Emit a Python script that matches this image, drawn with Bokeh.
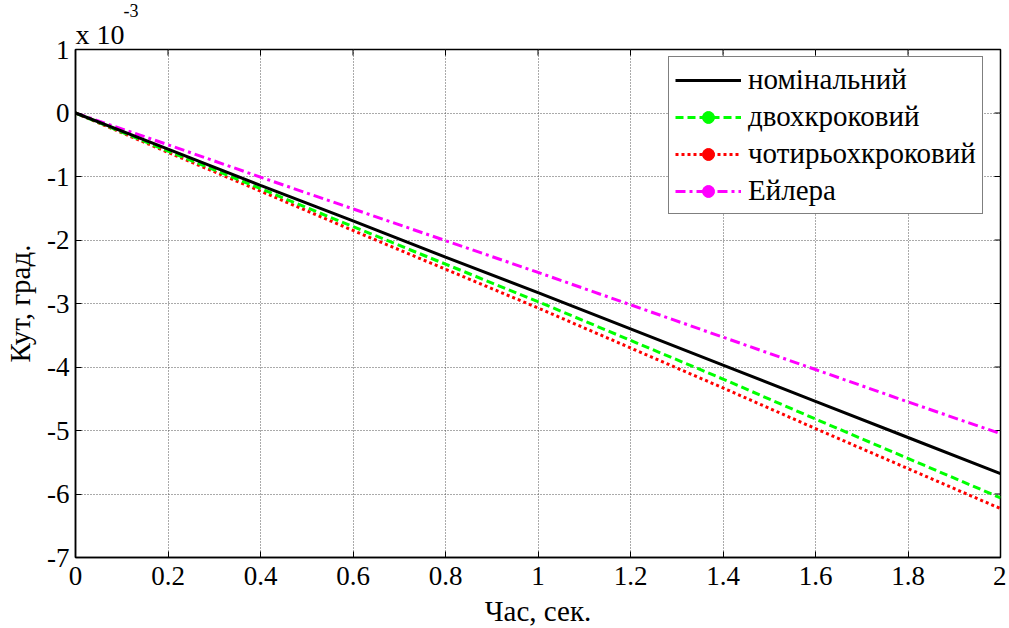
from bokeh.plotting import figure
from bokeh.models import Legend, LegendItem, Title, FixedTicker
from bokeh.embed import file_html
from bokeh.resources import INLINE

# time, s
t = [0.0, 0.2, 0.4, 0.6, 0.8, 1.0, 1.2, 1.4, 1.6, 1.8, 2.0]
# angle, degrees x 10^-3
nominal = [0.0, -0.57, -1.14, -1.70, -2.27, -2.83, -3.40, -3.97, -4.54, -5.11, -5.68]
two_step = [0.0, -0.60, -1.19, -1.79, -2.38, -2.97, -3.58, -4.19, -4.82, -5.44, -6.06]
four_step = [0.0, -0.62, -1.23, -1.85, -2.46, -3.07, -3.70, -4.33, -4.97, -5.60, -6.23]
euler = [0.0, -0.50, -1.01, -1.51, -2.01, -2.51, -3.02, -3.53, -4.04, -4.55, -5.05]

names = ["номінальний", "двохкроковий", "чотирьохкроковий", "Ейлера"]
x_ticks = [0, 0.2, 0.4, 0.6, 0.8, 1, 1.2, 1.4, 1.6, 1.8, 2]
x_tick_labels = ["0", "0.2", "0.4", "0.6", "0.8", "1", "1.2", "1.4", "1.6", "1.8", "2"]
y_ticks = [-7, -6, -5, -4, -3, -2, -1, 0, 1]
x_min, x_max = 0, 2
y_min, y_max = -7, 1

FONT = "'Liberation Serif'"
FS_TICK = "27px"
FS = "29px"

p = figure(frame_width=925, frame_height=508, x_range=(x_min, x_max), y_range=(y_min, y_max),
           output_backend="svg", toolbar_location=None,
           min_border_left=75, min_border_top=49, min_border_right=6, min_border_bottom=68,
           background_fill_color="white", border_fill_color="white")

p.outline_line_color = "black"
p.outline_line_width = 1.5
p.outline_line_alpha = 1

for ax in (p.xaxis[0], p.yaxis[0]):
    ax.major_label_text_font = FONT
    ax.major_label_text_font_size = FS_TICK
    ax.major_label_text_font_style = "normal"
    ax.major_label_text_color = "black"
    ax.axis_label_text_font = FONT
    ax.axis_label_text_font_size = FS
    ax.axis_label_text_font_style = "normal"
    ax.axis_label_text_color = "black"
    ax.major_tick_in = 6
    ax.major_tick_out = 0
    ax.minor_tick_line_color = None
    ax.axis_line_color = "black"
    ax.axis_line_width = 1.5
    ax.major_tick_line_color = "black"

p.xaxis.ticker = FixedTicker(ticks=x_ticks)
p.xaxis.major_label_overrides = {v: s for v, s in zip(x_ticks, x_tick_labels)}
p.yaxis.ticker = FixedTicker(ticks=y_ticks)
p.yaxis.major_label_overrides = {v: str(v) for v in y_ticks}
p.xaxis.axis_label = "Час, сек."
p.yaxis.axis_label = "Кут, град."
p.xaxis.major_label_standoff = 9
p.yaxis.major_label_standoff = 6
p.xaxis.axis_label_standoff = 7
p.yaxis.axis_label_standoff = 8

p.xgrid.ticker = FixedTicker(ticks=x_ticks)
p.ygrid.ticker = FixedTicker(ticks=y_ticks)
p.grid.grid_line_color = "#555555"
p.grid.grid_line_dash = "1 2"
p.grid.grid_line_width = 1

# inward ticks on top and right edges of the box
tx = (x_max - x_min) * 6 / 925
ty = (y_max - y_min) * 6 / 508
p.segment(x0=x_ticks, y0=[y_max] * len(x_ticks), x1=x_ticks, y1=[y_max - ty] * len(x_ticks),
          line_color="black", line_width=1)
p.segment(x0=[x_max] * len(y_ticks), y0=y_ticks, x1=[x_max - tx] * len(y_ticks), y1=y_ticks,
          line_color="black", line_width=1)

r_euler = p.line(t, euler, line_color="#FF00FF", line_width=3, line_dash="10 4 3 4")
r_four = p.line(t, four_step, line_color="#FF0000", line_width=3, line_dash="3 3")
r_two = p.line(t, two_step, line_color="#00FF00", line_width=3, line_dash="8 4")
r_nom = p.line(t, nominal, line_color="black", line_width=3)

# marker glyphs for the legend only (placed outside the visible range)
m_two = p.scatter([-10], [-10], size=7, color="#00FF00")
m_four = p.scatter([-10], [-10], size=7, color="#FF0000")
m_euler = p.scatter([-10], [-10], size=7, color="#FF00FF")

legend = Legend(items=[
    LegendItem(label=names[0], renderers=[r_nom]),
    LegendItem(label=names[1], renderers=[r_two, m_two]),
    LegendItem(label=names[2], renderers=[r_four, m_four]),
    LegendItem(label=names[3], renderers=[r_euler, m_euler]),
], location=(593, 343))
legend.label_text_font = FONT
legend.label_text_font_size = FS
legend.label_text_font_style = "normal"
legend.label_text_color = "black"
legend.label_height = 30
legend.glyph_height = 30
legend.glyph_width = 66
legend.label_standoff = 7
legend.spacing = 4
legend.padding = 6
legend.margin = 0
legend.border_line_color = "black"
legend.border_line_width = 1.5
legend.background_fill_color = "white"
legend.background_fill_alpha = 1
p.add_layout(legend, "center")

# exponent note "x 10^-3" above the top-left corner
p.add_layout(Title(text="x 10", align="left", offset=0, standoff=0,
                   text_font=FONT, text_font_size="28px", text_font_style="normal",
                   text_color="black"), "above")
p.add_layout(Title(text="-3", align="left", offset=48, standoff=0,
                   text_font=FONT, text_font_size="18px", text_font_style="normal",
                   text_color="black"), "above")

open("out.html", "w").write(file_html(p, INLINE))
